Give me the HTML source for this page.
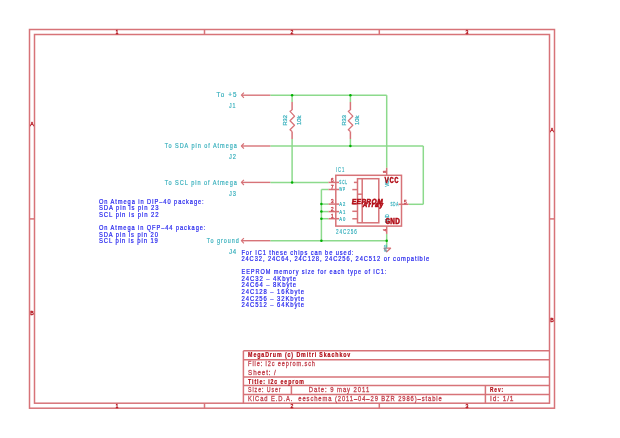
<!DOCTYPE html>
<html><head><meta charset="utf-8"><style>
html,body{margin:0;padding:0;background:#fff;width:620px;height:438px;overflow:hidden}
svg{display:block;will-change:transform}
text{font-family:"Liberation Sans",sans-serif}
</style></head><body>
<svg width="620" height="438" viewBox="0 0 620 438">
<rect width="620" height="438" fill="#fff"/>
<rect x="29.5" y="29.5" width="525.00" height="378.70" fill="none" stroke="#d77378" stroke-width="1.5"/>
<rect x="34.5" y="34.5" width="515.00" height="368.70" fill="none" stroke="#d77378" stroke-width="1.5"/>
<line x1="204.5" y1="29.5" x2="204.5" y2="34.5" stroke="#d77378" stroke-width="1.5"/>
<line x1="204.5" y1="403.2" x2="204.5" y2="408.2" stroke="#d77378" stroke-width="1.5"/>
<line x1="379.3" y1="29.5" x2="379.3" y2="34.5" stroke="#d77378" stroke-width="1.5"/>
<line x1="379.3" y1="403.2" x2="379.3" y2="408.2" stroke="#d77378" stroke-width="1.5"/>
<line x1="29.5" y1="218.9" x2="34.5" y2="218.9" stroke="#d77378" stroke-width="1.5"/>
<line x1="549.5" y1="218.9" x2="554.5" y2="218.9" stroke="#d77378" stroke-width="1.5"/>
<text x="117" y="33.80" text-anchor="middle" font-size="5.23" fill="#b20c16" stroke="#b20c16" stroke-width="0.3">1</text>
<text x="117" y="407.60" text-anchor="middle" font-size="5.23" fill="#b20c16" stroke="#b20c16" stroke-width="0.3">1</text>
<text x="292" y="33.80" text-anchor="middle" font-size="5.23" fill="#b20c16" stroke="#b20c16" stroke-width="0.3">2</text>
<text x="292" y="407.60" text-anchor="middle" font-size="5.23" fill="#b20c16" stroke="#b20c16" stroke-width="0.3">2</text>
<text x="467" y="33.80" text-anchor="middle" font-size="5.23" fill="#b20c16" stroke="#b20c16" stroke-width="0.3">3</text>
<text x="467" y="407.60" text-anchor="middle" font-size="5.23" fill="#b20c16" stroke="#b20c16" stroke-width="0.3">3</text>
<text x="32" y="125.80" text-anchor="middle" font-size="5.23" fill="#b20c16" stroke="#b20c16" stroke-width="0.3">A</text>
<text x="32" y="314.80" text-anchor="middle" font-size="5.23" fill="#b20c16" stroke="#b20c16" stroke-width="0.3">B</text>
<text x="552" y="132.30" text-anchor="middle" font-size="5.23" fill="#b20c16" stroke="#b20c16" stroke-width="0.3">A</text>
<text x="552" y="322.10" text-anchor="middle" font-size="5.23" fill="#b20c16" stroke="#b20c16" stroke-width="0.3">B</text>
<line x1="243.4" y1="350.8" x2="549.5" y2="350.8" stroke="#d77378" stroke-width="1.5"/>
<line x1="243.4" y1="359.7" x2="549.5" y2="359.7" stroke="#d77378" stroke-width="1.5"/>
<line x1="243.4" y1="377.1" x2="549.5" y2="377.1" stroke="#d77378" stroke-width="1.5"/>
<line x1="243.4" y1="385.6" x2="549.5" y2="385.6" stroke="#d77378" stroke-width="1.5"/>
<line x1="243.4" y1="394.5" x2="549.5" y2="394.5" stroke="#d77378" stroke-width="1.5"/>
<line x1="243.4" y1="350.8" x2="243.4" y2="403.2" stroke="#d77378" stroke-width="1.5"/>
<line x1="291.4" y1="385.6" x2="291.4" y2="394.5" stroke="#d77378" stroke-width="1.5"/>
<line x1="485.4" y1="385.6" x2="485.4" y2="403.2" stroke="#d77378" stroke-width="1.5"/>
<g transform="translate(248.1,357.2) scale(0.684,1)"><text x="0" y="0" textLength="149.39" lengthAdjust="spacing" font-size="7.70" fill="#b20c16" stroke="#b20c16" stroke-width="0.25" font-weight="bold" >MegaDrum (c) Dmitri Skachkov</text></g>
<g transform="translate(248.1,366.2) scale(0.722,1)"><text x="0" y="0" textLength="92.60" lengthAdjust="spacing" font-size="7.70" fill="#c2404c" stroke="#c2404c" stroke-width="0.3" >File: i2c eeprom.sch</text></g>
<g transform="translate(248.1,374.8) scale(0.806,1)"><text x="0" y="0" textLength="34.37" lengthAdjust="spacing" font-size="7.70" fill="#c2404c" stroke="#c2404c" stroke-width="0.3" >Sheet: /</text></g>
<g transform="translate(248.1,383.6) scale(0.675,1)"><text x="0" y="0" textLength="82.56" lengthAdjust="spacing" font-size="7.70" fill="#b20c16" stroke="#b20c16" stroke-width="0.25" font-weight="bold" >Title: i2c eeprom</text></g>
<g transform="translate(248.1,392.3) scale(0.687,1)"><text x="0" y="0" textLength="47.33" lengthAdjust="spacing" font-size="7.70" fill="#c2404c" stroke="#c2404c" stroke-width="0.3" >Size: User</text></g>
<g transform="translate(308.7,392.3) scale(0.773,1)"><text x="0" y="0" textLength="78.27" lengthAdjust="spacing" font-size="7.70" fill="#c2404c" stroke="#c2404c" stroke-width="0.3" >Date: 9 may 2011</text></g>
<g transform="translate(490,392.3) scale(0.623,1)"><text x="0" y="0" textLength="21.03" lengthAdjust="spacing" font-size="7.70" fill="#b20c16" stroke="#b20c16" stroke-width="0.25" font-weight="bold" >Rev:</text></g>
<g transform="translate(248.1,400.9) scale(0.755,1)"><text x="0" y="0" textLength="256.56" lengthAdjust="spacing" font-size="7.70" fill="#c2404c" stroke="#c2404c" stroke-width="0.3" xml:space="preserve">KiCad E.D.A.  eeschema (2011–04–29 BZR 2986)–stable</text></g>
<g transform="translate(490,400.8) scale(0.845,1)"><text x="0" y="0" textLength="27.80" lengthAdjust="spacing" font-size="7.70" fill="#c2404c" stroke="#c2404c" stroke-width="0.3" >Id: 1/1</text></g>
<line x1="270.3" y1="95.2" x2="386.7" y2="95.2" stroke="#8cda8c" stroke-width="1.5"/>
<line x1="386.7" y1="95.2" x2="386.7" y2="167.8" stroke="#8cda8c" stroke-width="1.5"/>
<line x1="270.3" y1="146" x2="423.3" y2="146" stroke="#8cda8c" stroke-width="1.5"/>
<line x1="423.3" y1="146" x2="423.3" y2="204.3" stroke="#8cda8c" stroke-width="1.5"/>
<line x1="408.6" y1="204.3" x2="423.3" y2="204.3" stroke="#8cda8c" stroke-width="1.5"/>
<line x1="270.3" y1="182.4" x2="328.5" y2="182.4" stroke="#8cda8c" stroke-width="1.5"/>
<line x1="292.1" y1="95.2" x2="292.1" y2="102" stroke="#8cda8c" stroke-width="1.5"/>
<line x1="292.1" y1="139" x2="292.1" y2="182.4" stroke="#8cda8c" stroke-width="1.5"/>
<line x1="350.4" y1="95.2" x2="350.4" y2="102" stroke="#8cda8c" stroke-width="1.5"/>
<line x1="350.4" y1="139" x2="350.4" y2="146" stroke="#8cda8c" stroke-width="1.5"/>
<line x1="321.4" y1="189.5" x2="328.5" y2="189.5" stroke="#8cda8c" stroke-width="1.5"/>
<line x1="321.4" y1="189.5" x2="321.4" y2="240.7" stroke="#8cda8c" stroke-width="1.5"/>
<line x1="321.4" y1="204.1" x2="328.5" y2="204.1" stroke="#8cda8c" stroke-width="1.5"/>
<line x1="321.4" y1="211.6" x2="328.5" y2="211.6" stroke="#8cda8c" stroke-width="1.5"/>
<line x1="321.4" y1="218.7" x2="328.5" y2="218.7" stroke="#8cda8c" stroke-width="1.5"/>
<line x1="270.3" y1="240.7" x2="386.7" y2="240.7" stroke="#8cda8c" stroke-width="1.5"/>
<line x1="386.7" y1="233.9" x2="386.7" y2="247.5" stroke="#8cda8c" stroke-width="1.5"/>
<circle cx="292.1" cy="95.2" r="1.25" fill="#00b000"/>
<circle cx="350.4" cy="95.2" r="1.25" fill="#00b000"/>
<circle cx="350.4" cy="146" r="1.25" fill="#00b000"/>
<circle cx="292.1" cy="182.4" r="1.25" fill="#00b000"/>
<circle cx="321.4" cy="204.1" r="1.25" fill="#00b000"/>
<circle cx="321.4" cy="211.6" r="1.25" fill="#00b000"/>
<circle cx="321.4" cy="218.7" r="1.25" fill="#00b000"/>
<circle cx="321.4" cy="240.7" r="1.25" fill="#00b000"/>
<circle cx="386.7" cy="240.7" r="1.25" fill="#00b000"/>
<line x1="242.0" y1="95.2" x2="270.3" y2="95.2" stroke="#d77378" stroke-width="1.4"/>
<polyline points="243.9,92.60000000000001 241.4,95.2 243.9,97.8" fill="none" stroke="#d77378" stroke-width="1.2" stroke-linejoin="round"/>
<line x1="242.0" y1="146" x2="270.3" y2="146" stroke="#d77378" stroke-width="1.4"/>
<polyline points="243.9,143.4 241.4,146 243.9,148.6" fill="none" stroke="#d77378" stroke-width="1.2" stroke-linejoin="round"/>
<line x1="242.0" y1="182.4" x2="270.3" y2="182.4" stroke="#d77378" stroke-width="1.4"/>
<polyline points="243.9,179.8 241.4,182.4 243.9,185.0" fill="none" stroke="#d77378" stroke-width="1.2" stroke-linejoin="round"/>
<line x1="242.0" y1="240.7" x2="270.3" y2="240.7" stroke="#d77378" stroke-width="1.4"/>
<polyline points="243.9,238.1 241.4,240.7 243.9,243.29999999999998" fill="none" stroke="#d77378" stroke-width="1.2" stroke-linejoin="round"/>
<g transform="translate(216.5,97.0) scale(0.868,1)"><text x="0" y="0" textLength="22.94" lengthAdjust="spacing" font-size="7.27" fill="#36afbc" stroke="#36afbc" stroke-width="0.2" >To +5</text></g>
<g transform="translate(229,108.1) scale(0.730,1)"><text x="0" y="0" textLength="8.91" lengthAdjust="spacing" font-size="7.27" fill="#36afbc" stroke="#36afbc" stroke-width="0.2" >J1</text></g>
<g transform="translate(164.8,148.1) scale(0.759,1)"><text x="0" y="0" textLength="94.83" lengthAdjust="spacing" font-size="7.27" fill="#36afbc" stroke="#36afbc" stroke-width="0.2" >To SDA pin of Atmega</text></g>
<g transform="translate(229,159.0) scale(0.782,1)"><text x="0" y="0" textLength="8.83" lengthAdjust="spacing" font-size="7.27" fill="#36afbc" stroke="#36afbc" stroke-width="0.2" >J2</text></g>
<g transform="translate(164.8,184.5) scale(0.768,1)"><text x="0" y="0" textLength="93.77" lengthAdjust="spacing" font-size="7.27" fill="#36afbc" stroke="#36afbc" stroke-width="0.2" >To SCL pin of Atmega</text></g>
<g transform="translate(229,195.5) scale(0.782,1)"><text x="0" y="0" textLength="8.83" lengthAdjust="spacing" font-size="7.27" fill="#36afbc" stroke="#36afbc" stroke-width="0.2" >J3</text></g>
<g transform="translate(206.8,242.8) scale(0.746,1)"><text x="0" y="0" textLength="42.79" lengthAdjust="spacing" font-size="7.27" fill="#36afbc" stroke="#36afbc" stroke-width="0.2" >To ground</text></g>
<g transform="translate(228.9,253.6) scale(0.869,1)"><text x="0" y="0" textLength="8.40" lengthAdjust="spacing" font-size="6.98" fill="#36afbc" stroke="#36afbc" stroke-width="0.2" >J4</text></g>
<line x1="292.1" y1="102" x2="292.1" y2="110" stroke="#d77378" stroke-width="1.5"/>
<polyline points="292.1,110 290.0,111.3 294.5,116.2 290.0,120.7 294.5,125.2 290.0,129.7 292.1,131.5" fill="none" stroke="#d77378" stroke-width="1.25" stroke-linejoin="round"/>
<line x1="292.1" y1="131.5" x2="292.1" y2="139" stroke="#d77378" stroke-width="1.5"/>
<g transform="translate(285.5,120.3) rotate(-90)"><text x="-5.25" y="1.80" textLength="10.50" lengthAdjust="spacingAndGlyphs" font-size="5.23" fill="#36afbc" stroke="#36afbc" stroke-width="0.2">R32</text></g>
<g transform="translate(299.1,120.3) rotate(-90)"><text x="-4.75" y="1.80" textLength="9.50" lengthAdjust="spacingAndGlyphs" font-size="5.23" fill="#36afbc" stroke="#36afbc" stroke-width="0.2">10k</text></g>
<line x1="350.4" y1="102" x2="350.4" y2="110" stroke="#d77378" stroke-width="1.5"/>
<polyline points="350.4,110 348.29999999999995,111.3 352.79999999999995,116.2 348.29999999999995,120.7 352.79999999999995,125.2 348.29999999999995,129.7 350.4,131.5" fill="none" stroke="#d77378" stroke-width="1.25" stroke-linejoin="round"/>
<line x1="350.4" y1="131.5" x2="350.4" y2="139" stroke="#d77378" stroke-width="1.5"/>
<g transform="translate(343.79999999999995,120.3) rotate(-90)"><text x="-5.25" y="1.80" textLength="10.50" lengthAdjust="spacingAndGlyphs" font-size="5.23" fill="#36afbc" stroke="#36afbc" stroke-width="0.2">R33</text></g>
<g transform="translate(357.4,120.3) rotate(-90)"><text x="-4.75" y="1.80" textLength="9.50" lengthAdjust="spacingAndGlyphs" font-size="5.23" fill="#36afbc" stroke="#36afbc" stroke-width="0.2">10k</text></g>
<rect x="335.8" y="175.3" width="65.70" height="50.80" fill="none" stroke="#d77378" stroke-width="1.5"/>
<line x1="328.5" y1="182.4" x2="339.0" y2="182.4" stroke="#d77378" stroke-width="1.5"/>
<text x="332.3" y="181.60" text-anchor="middle" font-size="5.23" fill="#c84650" stroke="#c84650" stroke-width="0.3">6</text>
<g transform="translate(339.2,184.3) scale(0.550,1)"><text x="0" y="0" textLength="14.18" lengthAdjust="spacing" font-size="5.67" fill="#36afbc" stroke="#36afbc" stroke-width="0.25" >SCL</text></g>
<line x1="328.5" y1="189.5" x2="339.0" y2="189.5" stroke="#d77378" stroke-width="1.5"/>
<text x="332.3" y="188.70" text-anchor="middle" font-size="5.23" fill="#c84650" stroke="#c84650" stroke-width="0.3">7</text>
<g transform="translate(339.2,191.4) scale(0.559,1)"><text x="0" y="0" textLength="10.74" lengthAdjust="spacing" font-size="5.67" fill="#36afbc" stroke="#36afbc" stroke-width="0.25" >WP</text></g>
<line x1="328.5" y1="204.1" x2="339.0" y2="204.1" stroke="#d77378" stroke-width="1.5"/>
<text x="332.3" y="203.30" text-anchor="middle" font-size="5.23" fill="#c84650" stroke="#c84650" stroke-width="0.3">3</text>
<g transform="translate(339.2,206.0) scale(0.736,1)"><text x="0" y="0" textLength="8.16" lengthAdjust="spacing" font-size="5.67" fill="#36afbc" stroke="#36afbc" stroke-width="0.25" >A2</text></g>
<line x1="328.5" y1="211.6" x2="339.0" y2="211.6" stroke="#d77378" stroke-width="1.5"/>
<text x="332.3" y="210.80" text-anchor="middle" font-size="5.23" fill="#c84650" stroke="#c84650" stroke-width="0.3">2</text>
<g transform="translate(339.2,213.5) scale(0.736,1)"><text x="0" y="0" textLength="8.16" lengthAdjust="spacing" font-size="5.67" fill="#36afbc" stroke="#36afbc" stroke-width="0.25" >A1</text></g>
<line x1="328.5" y1="218.7" x2="339.0" y2="218.7" stroke="#d77378" stroke-width="1.5"/>
<text x="332.3" y="217.90" text-anchor="middle" font-size="5.23" fill="#c84650" stroke="#c84650" stroke-width="0.3">1</text>
<g transform="translate(339.2,220.6) scale(0.736,1)"><text x="0" y="0" textLength="8.16" lengthAdjust="spacing" font-size="5.67" fill="#36afbc" stroke="#36afbc" stroke-width="0.25" >A0</text></g>
<rect x="357.5" y="178.7" width="21.30" height="44.10" fill="none" stroke="#d77378" stroke-width="1.5"/>
<line x1="362.2" y1="178.7" x2="362.2" y2="222.8" stroke="#d77378" stroke-width="1.5"/>
<line x1="357.5" y1="194.2" x2="362.2" y2="194.2" stroke="#d77378" stroke-width="1.5"/>
<line x1="353.9" y1="182.4" x2="357.5" y2="182.4" stroke="#d77378" stroke-width="1.5"/>
<line x1="352.3" y1="189.6" x2="357.5" y2="189.6" stroke="#d77378" stroke-width="1.5"/>
<line x1="352.3" y1="204.1" x2="357.5" y2="204.1" stroke="#d77378" stroke-width="1.5"/>
<line x1="352.3" y1="211.3" x2="357.5" y2="211.3" stroke="#d77378" stroke-width="1.5"/>
<line x1="352.3" y1="218.8" x2="357.5" y2="218.8" stroke="#d77378" stroke-width="1.5"/>
<line x1="398.5" y1="204.3" x2="408.6" y2="204.3" stroke="#d77378" stroke-width="1.5"/>
<text x="405.3" y="203.85" text-anchor="middle" font-size="5.38" fill="#c84650" stroke="#c84650" stroke-width="0.3">5</text>
<g transform="translate(390.6,205.9) scale(0.550,1)"><text x="0" y="0" textLength="13.82" lengthAdjust="spacing" font-size="5.52" fill="#36afbc" stroke="#36afbc" stroke-width="0.25" >SDA</text></g>
<line x1="386.7" y1="167.8" x2="386.7" y2="175.3" stroke="#d77378" stroke-width="1.5"/>
<g transform="translate(384.9,171.6) rotate(-90)"><text x="0" y="1.30" text-anchor="middle" font-size="3.78" fill="#c84650" stroke="#c84650" stroke-width="0.35">8</text></g>
<g transform="translate(387.0,182.3) rotate(-90)"><text x="-4.50" y="1.80" textLength="9.00" lengthAdjust="spacingAndGlyphs" font-size="5.23" fill="#36afbc" stroke="#36afbc" stroke-width="0.2">VCC</text></g>
<line x1="386.7" y1="226.1" x2="386.7" y2="233.9" stroke="#d77378" stroke-width="1.5"/>
<g transform="translate(384.4,230.1) rotate(-90)"><text x="0" y="1.30" text-anchor="middle" font-size="3.78" fill="#c84650" stroke="#c84650" stroke-width="0.35">4</text></g>
<g transform="translate(387.0,218.8) rotate(-90)"><text x="-4.50" y="1.80" textLength="9.00" lengthAdjust="spacingAndGlyphs" font-size="5.23" fill="#36afbc" stroke="#36afbc" stroke-width="0.2">GND</text></g>
<g transform="translate(351.5,204.4) scale(0.900,1) skewX(-10)"><text x="0" y="0" textLength="34.33" lengthAdjust="spacing" font-size="7.27" fill="#b20c16" stroke="#b20c16" stroke-width="0.6" font-weight="bold" >EEPROM</text></g>
<g transform="translate(362.4,206.5) scale(0.900,1) skewX(-10)"><text x="0" y="0" textLength="22.56" lengthAdjust="spacing" font-size="6.98" fill="#b20c16" stroke="#b20c16" stroke-width="0.6" font-weight="bold" >Array</text></g>
<g transform="translate(384.5,182.7) scale(0.800,1)"><text x="0" y="0" textLength="17.63" lengthAdjust="spacing" font-size="9.01" fill="#b20c16" stroke="#b20c16" stroke-width="0.3" font-weight="bold" style="font-family:Liberation Mono">VCC</text></g>
<g transform="translate(385.2,223.8) scale(1.000,1)"><text x="0" y="0" textLength="14.90" lengthAdjust="spacing" font-size="8.43" fill="#b20c16" stroke="#b20c16" stroke-width="0.3" font-weight="bold" style="font-family:Liberation Mono">GND</text></g>
<g transform="translate(336,172.0) scale(0.577,1)"><text x="0" y="0" textLength="14.20" lengthAdjust="spacing" font-size="7.12" fill="#36afbc" stroke="#36afbc" stroke-width="0.2" >IC1</text></g>
<g transform="translate(336.1,233.8) scale(0.687,1)"><text x="0" y="0" textLength="29.97" lengthAdjust="spacing" font-size="6.69" fill="#36afbc" stroke="#36afbc" stroke-width="0.2" >24C256</text></g>
<polyline points="383.8,248.2 390.6,248.2 386.7,251.8 383.8,248.2" fill="none" stroke="#d77378" stroke-width="1.2" stroke-linejoin="round"/>
<g transform="translate(385.2,248.3) rotate(-90)"><text x="-3.50" y="1.50" textLength="7.00" lengthAdjust="spacingAndGlyphs" font-size="4.36" fill="#36afbc" stroke="#36afbc" stroke-width="0.2">GND</text></g>
<g transform="translate(98.9,203.8) scale(0.772,1)"><text x="0" y="0" textLength="135.72" lengthAdjust="spacing" font-size="7.41" fill="#2424ee" stroke="#2424ee" stroke-width="0.22" >On Atmega in DIP–40 package:</text></g>
<g transform="translate(98.9,210.3) scale(0.797,1)"><text x="0" y="0" textLength="74.94" lengthAdjust="spacing" font-size="7.41" fill="#2424ee" stroke="#2424ee" stroke-width="0.22" >SDA pin is pin 23</text></g>
<g transform="translate(98.9,216.8) scale(0.808,1)"><text x="0" y="0" textLength="73.86" lengthAdjust="spacing" font-size="7.41" fill="#2424ee" stroke="#2424ee" stroke-width="0.22" >SCL pin is pin 22</text></g>
<g transform="translate(98.9,230.0) scale(0.767,1)"><text x="0" y="0" textLength="138.81" lengthAdjust="spacing" font-size="7.41" fill="#2424ee" stroke="#2424ee" stroke-width="0.22" >On Atmega in QFP–44 package:</text></g>
<g transform="translate(98.9,236.5) scale(0.784,1)"><text x="0" y="0" textLength="75.22" lengthAdjust="spacing" font-size="7.41" fill="#2424ee" stroke="#2424ee" stroke-width="0.22" >SDA pin is pin 20</text></g>
<g transform="translate(98.9,243.0) scale(0.796,1)"><text x="0" y="0" textLength="74.14" lengthAdjust="spacing" font-size="7.41" fill="#2424ee" stroke="#2424ee" stroke-width="0.22" >SCL pin is pin 19</text></g>
<g transform="translate(241.4,254.5) scale(0.773,1)"><text x="0" y="0" textLength="144.87" lengthAdjust="spacing" font-size="7.41" fill="#2424ee" stroke="#2424ee" stroke-width="0.22" >For IC1 these chips can be used:</text></g>
<g transform="translate(241.4,261.2) scale(0.778,1)"><text x="0" y="0" textLength="241.28" lengthAdjust="spacing" font-size="7.41" fill="#2424ee" stroke="#2424ee" stroke-width="0.22" >24C32, 24C64, 24C128, 24C256, 24C512 or compatible</text></g>
<g transform="translate(241.6,274.0) scale(0.756,1)"><text x="0" y="0" textLength="191.45" lengthAdjust="spacing" font-size="7.41" fill="#2424ee" stroke="#2424ee" stroke-width="0.22" >EEPROM memory size for each type of IC1:</text></g>
<g transform="translate(241.6,280.6) scale(0.807,1)"><text x="0" y="0" textLength="67.66" lengthAdjust="spacing" font-size="7.41" fill="#2424ee" stroke="#2424ee" stroke-width="0.22" >24C32 – 4Kbyte</text></g>
<g transform="translate(241.6,287.4) scale(0.807,1)"><text x="0" y="0" textLength="67.66" lengthAdjust="spacing" font-size="7.41" fill="#2424ee" stroke="#2424ee" stroke-width="0.22" >24C64 – 8Kbyte</text></g>
<g transform="translate(241.6,294.0) scale(0.798,1)"><text x="0" y="0" textLength="78.33" lengthAdjust="spacing" font-size="7.41" fill="#2424ee" stroke="#2424ee" stroke-width="0.22" >24C128 – 16Kbyte</text></g>
<g transform="translate(241.6,300.5) scale(0.798,1)"><text x="0" y="0" textLength="78.33" lengthAdjust="spacing" font-size="7.41" fill="#2424ee" stroke="#2424ee" stroke-width="0.22" >24C256 – 32Kbyte</text></g>
<g transform="translate(241.6,307.1) scale(0.798,1)"><text x="0" y="0" textLength="78.33" lengthAdjust="spacing" font-size="7.41" fill="#2424ee" stroke="#2424ee" stroke-width="0.22" >24C512 – 64Kbyte</text></g>
</svg>
</body></html>
